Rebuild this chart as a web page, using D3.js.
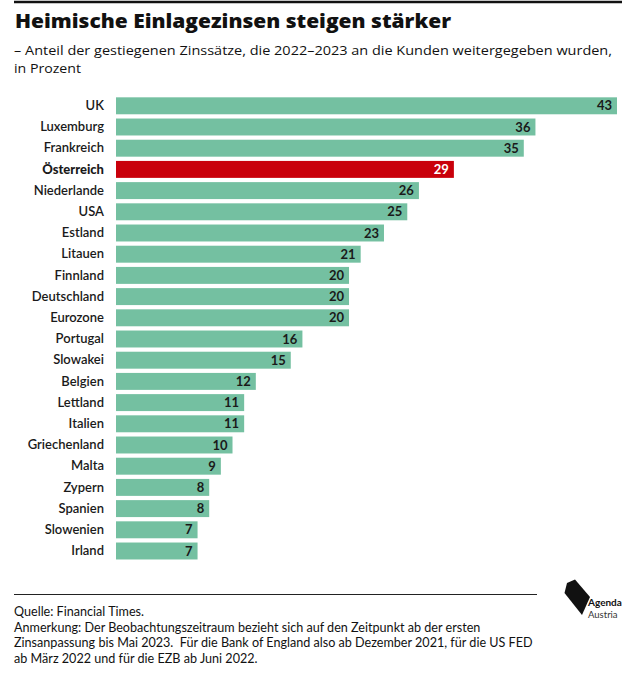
<!DOCTYPE html>
<html><head><meta charset="utf-8">
<script src="https://cdn.jsdelivr.net/npm/d3@7"></script>
<style>
body{margin:0;background:#fff;}
svg{display:block;font-family:Lato,"Open Sans",sans-serif;}
text{white-space:pre;}
</style></head>
<body>
<svg id="chart" width="636" height="680"></svg>
<script>
const categories = ["UK","Luxemburg","Frankreich","Österreich","Niederlande","USA","Estland","Litauen","Finnland","Deutschland","Eurozone","Portugal","Slowakei","Belgien","Lettland","Italien","Griechenland","Malta","Zypern","Spanien","Slowenien","Irland"];
const values = [43,36,35,29,26,25,23,21,20,20,20,16,15,12,11,11,10,9,8,8,7,7];
const highlight = "Österreich";
const title = "Heimische Einlagezinsen steigen stärker";
const subtitle = ["– Anteil der gestiegenen Zinssätze, die 2022–2023 an die Kunden weitergegeben wurden,","in Prozent"];
const notes = ["Quelle: Financial Times.","Anmerkung: Der Beobachtungszeitraum bezieht sich auf den Zeitpunkt ab der ersten","Zinsanpassung bis Mai 2023.  Für die Bank of England also ab Dezember 2021, für die US FED","ab März 2022 und für die EZB ab Juni 2022."];

const svg = d3.select("#chart");
const data = categories.map((c,i)=>({c, v: values[i]}));

svg.append("line").attr("x1",14).attr("x2",622).attr("y1",2).attr("y2",2).attr("stroke","#111").attr("stroke-width",2.5);
svg.append("text").attr("x",15).attr("y",28).attr("font-size",20).attr("font-weight",800)
  .attr("font-family","'Open Sans',sans-serif").attr("fill","#111")
  .attr("textLength",436).attr("lengthAdjust","spacingAndGlyphs").text(title);
const subLen = [598, 67];
svg.selectAll(".sub").data(subtitle).enter().append("text")
  .attr("x",14).attr("y",(d,i)=>55+i*17.5).attr("font-size",12.8).attr("font-family","'Open Sans',sans-serif").attr("fill","#111")
  .attr("textLength",(d,i)=>subLen[i]).attr("lengthAdjust","spacingAndGlyphs")
  .text(d=>d);

const x = d3.scaleLinear().domain([0,43]).range([116,617]);
const y = d3.scaleBand().domain(categories).range([95.2,95.2+22*21.2]).paddingInner(0.2).paddingOuter(0.1);

const g = svg.append("g");
g.selectAll("rect").data(data).enter().append("rect")
  .attr("x",x(0)).attr("y",d=>y(d.c)).attr("width",d=>x(d.v)-x(0)).attr("height",y.bandwidth())
  .attr("fill",d=>d.c===highlight?"#c9000b":"#74c0a1");
g.selectAll(".val").data(data).enter().append("text")
  .attr("x",d=>x(d.v)-5).attr("y",d=>y(d.c)+y.bandwidth()/2).attr("dy","0.36em")
  .attr("text-anchor","end").attr("font-size",13).attr("font-weight",700)
  .attr("fill",d=>d.c===highlight?"#fff":"#1a1a1a").text(d=>d.v);
const yAxis = d3.axisLeft(y).tickSize(0).tickPadding(12);
const ag = svg.append("g").attr("transform",`translate(${x(0)},0)`).call(yAxis);
ag.select(".domain").remove();
ag.selectAll("text").attr("font-size",13).attr("font-family","Lato,'Open Sans',sans-serif")
  .attr("fill","#1a1a1a").attr("font-weight",d=>d===highlight?900:600);

svg.append("line").attr("x1",14).attr("x2",537).attr("y1",594.5).attr("y2",594.5).attr("stroke","#222").attr("stroke-width",1);
svg.selectAll(".note").data(notes).enter().append("text")
  .attr("x",14).attr("y",(d,i)=>616+i*15.5).attr("font-size",12.6).attr("fill","#111").text(d=>d);

// logo
const lg = svg.append("g");
lg.append("path").attr("d","M567,583 L575,579.5 L590,597 L582,615 L564.5,593 Z").attr("fill","#111");
lg.append("text").attr("x",588).attr("y",606).attr("font-size",10).attr("font-weight",700).attr("fill","#111").text("Agenda");
lg.append("text").attr("x",588).attr("y",618).attr("font-size",9.5).attr("fill","#333").text("Austria");
</script>
</body></html>
